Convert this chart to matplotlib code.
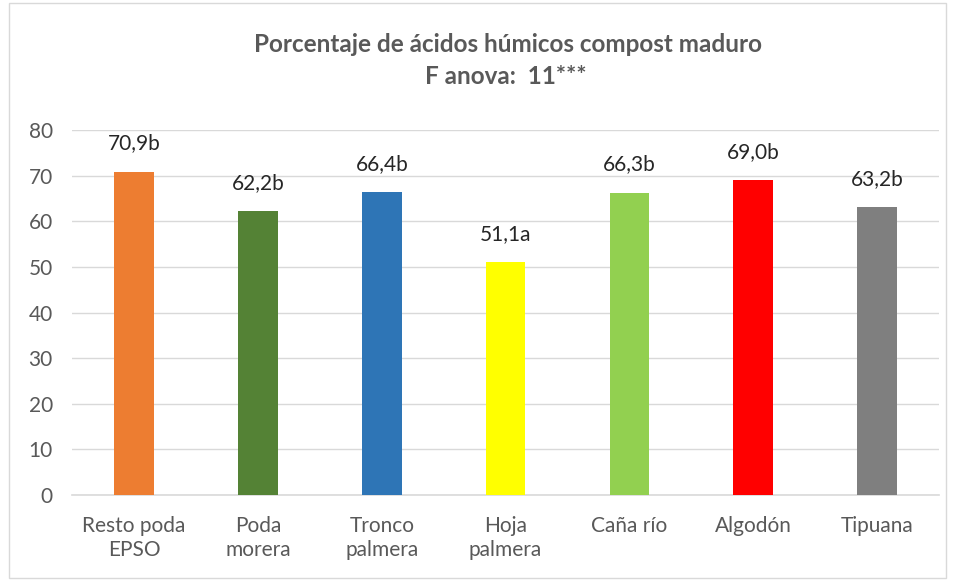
import matplotlib.pyplot as plt
from matplotlib.patches import Rectangle

categorias = ['Resto poda\nEPSO', 'Poda\nmorera', 'Tronco\npalmera', 'Hoja\npalmera',
              'Caña río', 'Algodón', 'Tipuana']
valores = [70.9, 62.2, 66.4, 51.1, 66.3, 69.0, 63.2]
letras = ['b', 'b', 'b', 'a', 'b', 'b', 'b']
colores = ['#ED7D31', '#548235', '#2E75B6', '#FFFF00', '#92D050', '#FF0000', '#7F7F7F']

plt.rcParams['font.family'] = ['Lato', 'DejaVu Sans']

fig = plt.figure(figsize=(9.55, 5.81), dpi=100)
ax = fig.add_axes([0.0756, 0.148, 0.9077, 0.628])

x = range(len(categorias))
ax.bar(x, valores, width=0.32, color=colores, zorder=3)

for i, v in enumerate(valores):
    etiqueta = ('%.1f' % v).replace('.', ',') + letras[i]
    ax.annotate(etiqueta, (i, v), xytext=(0, 13), textcoords='offset points',
                ha='center', va='bottom', fontsize=15, color='#262626')

ax.set_ylim(0, 80)
ax.set_xlim(-0.5, 6.5)
ax.set_yticks(range(0, 81, 10))
ax.set_xticks(list(x))
ax.set_xticklabels(categorias, linespacing=1.25)
ax.tick_params(axis='both', length=0, labelsize=15, colors='#595959')
ax.tick_params(axis='y', pad=14)
ax.tick_params(axis='x', pad=15)
ax.yaxis.grid(True, color='#D9D9D9', linewidth=1, zorder=0)
for lado in ['top', 'right', 'left']:
    ax.spines[lado].set_visible(False)
ax.spines['bottom'].set_color('#D9D9D9')
ax.spines['bottom'].set_linewidth(1.2)

fig.text(0.532, 0.923, 'Porcentaje de ácidos húmicos compost maduro', ha='center',
         va='center', fontsize=17.5, fontweight='bold', color='#595959')
fig.text(0.53, 0.868, 'F anova:  11***', ha='center', va='center',
         fontsize=17.5, fontweight='bold', color='#595959')

# marco del área del gráfico
fig.patches.append(Rectangle((0.009, 0.006), 0.982, 0.988, transform=fig.transFigure,
                             fill=False, edgecolor='#D9D9D9', linewidth=1))

fig.savefig('out.png', dpi=100)
